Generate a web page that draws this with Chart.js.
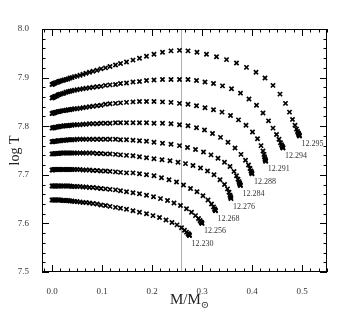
<!DOCTYPE html>
<html>
<head>
<meta charset="utf-8">
<script src="https://cdn.jsdelivr.net/npm/chart.js@4"></script>
<style>
  html, body { margin: 0; padding: 0; background: #fff; }
  #wrap { width: 342px; height: 316px; }
</style>
</head>
<body>
<div id="wrap"><canvas id="chart" width="342" height="316"></canvas></div>
<script>
// tick labels
const xTicks = [0.0, 0.1, 0.2, 0.3, 0.4, 0.5];
const yTicks = [7.5, 7.6, 7.7, 7.8, 7.9, 8.0];
const refMass = 0.258;

// labels written at the end of each track
const endLabels = ['12.295', '12.294', '12.291', '12.288', '12.284', '12.276', '12.268', '12.256', '12.230'];

// tracks: [M/Msun, log T]
const track1 = [[0,7.886],[0.002,7.887],[0.004,7.888],[0.006,7.889],[0.009,7.890],[0.012,7.891],[0.014,7.892],[0.017,7.893],[0.021,7.894],[0.024,7.895],[0.028,7.896],[0.032,7.897],[0.036,7.899],[0.040,7.900],[0.045,7.902],[0.050,7.903],[0.056,7.905],[0.062,7.907],[0.068,7.909],[0.075,7.911],[0.082,7.913],[0.090,7.915],[0.098,7.918],[0.107,7.920],[0.116,7.923],[0.127,7.926],[0.137,7.929],[0.149,7.932],[0.162,7.936],[0.175,7.940],[0.189,7.944],[0.204,7.948],[0.221,7.952],[0.238,7.955],[0.255,7.956],[0.272,7.955],[0.290,7.952],[0.309,7.948],[0.329,7.943],[0.349,7.937],[0.369,7.930],[0.389,7.921],[0.408,7.911],[0.426,7.899],[0.442,7.884],[0.456,7.866],[0.467,7.847],[0.475,7.829],[0.481,7.814],[0.486,7.802],[0.489,7.794],[0.491,7.789],[0.4925,7.786],[0.4935,7.784],[0.494,7.782],[0.4945,7.781],[0.495,7.780]];
const track2 = [[0,7.858],[0.002,7.859],[0.004,7.860],[0.006,7.861],[0.009,7.862],[0.012,7.864],[0.014,7.865],[0.017,7.866],[0.021,7.867],[0.024,7.868],[0.028,7.870],[0.032,7.871],[0.036,7.872],[0.040,7.873],[0.045,7.874],[0.050,7.875],[0.056,7.876],[0.062,7.877],[0.068,7.878],[0.075,7.879],[0.082,7.880],[0.090,7.881],[0.098,7.882],[0.107,7.884],[0.116,7.885],[0.127,7.886],[0.137,7.888],[0.149,7.889],[0.162,7.891],[0.175,7.892],[0.189,7.894],[0.204,7.895],[0.221,7.896],[0.238,7.896],[0.255,7.896],[0.272,7.896],[0.289,7.894],[0.306,7.891],[0.323,7.888],[0.341,7.883],[0.359,7.877],[0.377,7.868],[0.394,7.856],[0.409,7.843],[0.422,7.827],[0.433,7.811],[0.442,7.796],[0.449,7.783],[0.454,7.773],[0.457,7.766],[0.459,7.762],[0.4603,7.759],[0.461,7.757],[0.4615,7.756],[0.462,7.755]];
const track3 = [[0,7.826],[0.002,7.827],[0.004,7.827],[0.006,7.828],[0.009,7.829],[0.012,7.830],[0.014,7.830],[0.017,7.831],[0.021,7.832],[0.024,7.832],[0.028,7.833],[0.032,7.834],[0.036,7.834],[0.040,7.835],[0.045,7.836],[0.050,7.836],[0.056,7.837],[0.062,7.838],[0.068,7.839],[0.075,7.840],[0.082,7.841],[0.090,7.842],[0.098,7.843],[0.107,7.845],[0.116,7.846],[0.127,7.847],[0.137,7.848],[0.149,7.849],[0.162,7.850],[0.175,7.851],[0.189,7.851],[0.204,7.851],[0.221,7.850],[0.238,7.849],[0.255,7.847],[0.272,7.845],[0.289,7.842],[0.306,7.838],[0.323,7.834],[0.340,7.829],[0.357,7.822],[0.373,7.813],[0.388,7.802],[0.401,7.788],[0.411,7.774],[0.418,7.760],[0.422,7.749],[0.424,7.742],[0.425,7.737],[0.426,7.733],[0.4265,7.731],[0.427,7.729],[0.4273,7.728]];
const track4 = [[0,7.796],[0.002,7.797],[0.004,7.797],[0.006,7.798],[0.009,7.798],[0.012,7.799],[0.014,7.799],[0.017,7.800],[0.021,7.800],[0.024,7.801],[0.028,7.801],[0.032,7.801],[0.036,7.802],[0.040,7.802],[0.045,7.803],[0.050,7.803],[0.056,7.803],[0.062,7.804],[0.068,7.804],[0.075,7.805],[0.082,7.805],[0.090,7.805],[0.098,7.806],[0.107,7.806],[0.116,7.806],[0.127,7.807],[0.137,7.807],[0.149,7.807],[0.162,7.807],[0.175,7.807],[0.189,7.807],[0.204,7.806],[0.221,7.806],[0.238,7.805],[0.255,7.803],[0.272,7.801],[0.289,7.797],[0.305,7.792],[0.321,7.785],[0.337,7.777],[0.352,7.767],[0.366,7.755],[0.378,7.742],[0.387,7.730],[0.393,7.720],[0.396,7.713],[0.398,7.708],[0.399,7.705],[0.3995,7.703],[0.400,7.702]];
const track5 = [[0,7.768],[0.002,7.768],[0.004,7.769],[0.006,7.769],[0.009,7.769],[0.012,7.770],[0.014,7.770],[0.017,7.770],[0.021,7.771],[0.024,7.771],[0.028,7.771],[0.032,7.772],[0.036,7.772],[0.040,7.772],[0.045,7.772],[0.050,7.773],[0.056,7.773],[0.062,7.773],[0.068,7.773],[0.075,7.773],[0.082,7.773],[0.090,7.773],[0.098,7.773],[0.107,7.773],[0.116,7.773],[0.127,7.773],[0.137,7.772],[0.149,7.772],[0.162,7.771],[0.175,7.770],[0.189,7.769],[0.204,7.767],[0.221,7.765],[0.238,7.763],[0.255,7.760],[0.271,7.756],[0.287,7.752],[0.303,7.747],[0.318,7.741],[0.332,7.734],[0.345,7.726],[0.356,7.717],[0.364,7.707],[0.369,7.698],[0.372,7.691],[0.374,7.686],[0.375,7.683],[0.3757,7.681],[0.3763,7.679],[0.377,7.678]];
const track6 = [[0,7.743],[0.002,7.743],[0.004,7.743],[0.006,7.744],[0.009,7.744],[0.012,7.744],[0.014,7.744],[0.017,7.745],[0.021,7.745],[0.024,7.745],[0.028,7.745],[0.032,7.745],[0.036,7.745],[0.040,7.745],[0.045,7.745],[0.050,7.745],[0.056,7.745],[0.062,7.745],[0.068,7.745],[0.075,7.745],[0.082,7.745],[0.090,7.744],[0.098,7.744],[0.107,7.743],[0.116,7.743],[0.127,7.742],[0.137,7.741],[0.149,7.740],[0.162,7.739],[0.175,7.737],[0.189,7.735],[0.204,7.733],[0.220,7.731],[0.236,7.729],[0.252,7.726],[0.267,7.723],[0.282,7.719],[0.297,7.714],[0.311,7.708],[0.324,7.700],[0.336,7.690],[0.345,7.680],[0.351,7.671],[0.354,7.664],[0.356,7.658],[0.357,7.655],[0.3575,7.653],[0.358,7.651]];
const track7 = [[0,7.710],[0.002,7.710],[0.004,7.711],[0.006,7.711],[0.009,7.711],[0.012,7.711],[0.014,7.711],[0.017,7.711],[0.021,7.711],[0.024,7.711],[0.028,7.711],[0.032,7.711],[0.036,7.711],[0.040,7.711],[0.045,7.711],[0.050,7.711],[0.056,7.711],[0.062,7.710],[0.068,7.710],[0.075,7.710],[0.082,7.709],[0.090,7.709],[0.098,7.708],[0.107,7.708],[0.116,7.707],[0.127,7.706],[0.137,7.705],[0.149,7.704],[0.162,7.704],[0.175,7.702],[0.189,7.700],[0.204,7.698],[0.219,7.694],[0.234,7.690],[0.249,7.685],[0.263,7.679],[0.277,7.672],[0.290,7.665],[0.302,7.657],[0.312,7.648],[0.319,7.640],[0.323,7.634],[0.325,7.630],[0.326,7.628],[0.3265,7.627],[0.327,7.626]];
const track8 = [[0,7.677],[0.002,7.677],[0.004,7.677],[0.006,7.677],[0.009,7.677],[0.012,7.677],[0.014,7.677],[0.017,7.677],[0.021,7.677],[0.024,7.677],[0.028,7.677],[0.032,7.677],[0.036,7.677],[0.040,7.676],[0.045,7.676],[0.050,7.676],[0.056,7.676],[0.062,7.675],[0.068,7.675],[0.075,7.674],[0.082,7.674],[0.090,7.673],[0.098,7.672],[0.107,7.671],[0.116,7.670],[0.127,7.669],[0.137,7.667],[0.149,7.665],[0.162,7.663],[0.175,7.661],[0.189,7.658],[0.203,7.655],[0.217,7.651],[0.231,7.647],[0.244,7.642],[0.257,7.637],[0.269,7.630],[0.279,7.623],[0.287,7.616],[0.293,7.610],[0.296,7.606],[0.298,7.603],[0.299,7.602],[0.2995,7.601],[0.300,7.600]];
const track9 = [[0,7.648],[0.002,7.648],[0.004,7.648],[0.006,7.648],[0.009,7.648],[0.012,7.648],[0.014,7.648],[0.017,7.648],[0.021,7.647],[0.024,7.647],[0.028,7.647],[0.032,7.647],[0.036,7.646],[0.040,7.646],[0.045,7.645],[0.050,7.645],[0.056,7.644],[0.062,7.643],[0.068,7.643],[0.075,7.642],[0.082,7.641],[0.090,7.640],[0.098,7.638],[0.107,7.637],[0.116,7.635],[0.127,7.633],[0.137,7.631],[0.149,7.629],[0.162,7.626],[0.175,7.623],[0.189,7.620],[0.202,7.616],[0.215,7.612],[0.228,7.607],[0.240,7.602],[0.250,7.597],[0.259,7.591],[0.265,7.586],[0.269,7.582],[0.272,7.579],[0.273,7.578],[0.274,7.577],[0.2745,7.576],[0.275,7.575]];

const tracks = [track1, track2, track3, track4, track5, track6, track7, track8, track9];

const SERIF = "'Liberation Serif', 'DejaVu Serif', serif";

const decorPlugin = {
  id: 'decor',
  beforeDatasetsDraw(chart) {
    const { ctx, chartArea: a, scales: { x } } = chart;
    const px = Math.round(x.getPixelForValue(refMass)) + 0.5;
    ctx.save();
    ctx.strokeStyle = '#b0b0b0';
    ctx.lineWidth = 1;
    ctx.beginPath();
    ctx.moveTo(px, a.top);
    ctx.lineTo(px, a.bottom);
    ctx.stroke();
    ctx.restore();
  },
  afterDatasetsDraw(chart) {
    const { ctx, chartArea: a, scales: { x, y } } = chart;
    ctx.save();
    ctx.strokeStyle = '#000';
    ctx.lineWidth = 1;
    ctx.strokeRect(a.left + 0.5, a.top + 0.5, a.right - a.left - 1, a.bottom - a.top - 1);

    // inward ticks on all four sides
    ctx.beginPath();
    for (let k = Math.ceil(x.min * 60); k <= Math.floor(x.max * 60); k++) {
      const p = Math.round(x.getPixelForValue(k / 60)) + 0.5;
      const len = k % 6 === 0 ? 7 : 3.5;
      ctx.moveTo(p, a.bottom); ctx.lineTo(p, a.bottom - len);
      ctx.moveTo(p, a.top); ctx.lineTo(p, a.top + len);
    }
    for (let k = Math.ceil(y.min * 50 - 1e-6); k <= Math.floor(y.max * 50 + 1e-6); k++) {
      const p = Math.round(y.getPixelForValue(k / 50)) + 0.5;
      const len = k % 5 === 0 ? 7 : 3.5;
      ctx.moveTo(a.left, p); ctx.lineTo(a.left + len, p);
      ctx.moveTo(a.right, p); ctx.lineTo(a.right - len, p);
    }
    ctx.stroke();

    // end labels
    ctx.fillStyle = '#333';
    ctx.font = '8px ' + SERIF;
    ctx.textAlign = 'left';
    ctx.textBaseline = 'middle';
    tracks.forEach((t, i) => {
      const last = t[t.length - 1];
      ctx.fillText(endLabels[i], x.getPixelForValue(last[0]) + 2, y.getPixelForValue(last[1]) + 8);
    });

    // axis titles
    ctx.fillStyle = '#222';
    ctx.font = '14px ' + SERIF;
    ctx.textAlign = 'center';
    ctx.textBaseline = 'middle';
    ctx.save();
    ctx.translate(15, (a.top + a.bottom) / 2);
    ctx.rotate(-Math.PI / 2);
    ctx.fillText('log T', 0, 0);
    ctx.restore();

    const cx = (a.left + a.right) / 2 + 5;
    const base = 304;
    ctx.font = '15px ' + SERIF;
    const main = 'M/M';
    const wMain = ctx.measureText(main).width;
    ctx.font = '10px ' + SERIF;
    const sub = '\u2299';
    const wSub = ctx.measureText(sub).width;
    const start = cx - (wMain + wSub) / 2;
    ctx.textAlign = 'left';
    ctx.textBaseline = 'alphabetic';
    ctx.font = '15px ' + SERIF;
    ctx.fillText(main, start, base);
    ctx.font = '10px ' + SERIF;
    ctx.fillText(sub, start + wMain, base + 4);
    ctx.restore();
  }
};

new Chart(document.getElementById('chart'), {
  type: 'scatter',
  data: {
    datasets: tracks.map((t, i) => ({
      label: endLabels[i],
      data: t.map(p => ({ x: p[0], y: p[1] })),
      pointStyle: 'crossRot',
      pointRadius: 3,
      borderColor: '#000',
      backgroundColor: '#000',
      borderWidth: 1.7,
      showLine: false
    }))
  },
  options: {
    responsive: false,
    animation: false,
    events: [],
    layout: { padding: { top: 29, right: 15, left: 0, bottom: 0 } },
    plugins: { legend: { display: false }, tooltip: { enabled: false } },
    scales: {
      x: {
        type: 'linear',
        min: -0.02,
        max: 0.55,
        afterFit: s => { s.height = 44; },
        afterBuildTicks: s => { s.ticks = xTicks.map(v => ({ value: v })); },
        grid: { display: false },
        border: { display: false },
        ticks: {
          padding: 6,
          color: '#333',
          font: { family: SERIF, size: 9 },
          callback: v => Number(v).toFixed(1)
        }
      },
      y: {
        type: 'linear',
        min: 7.5,
        max: 8.0,
        afterFit: s => { s.width = 42; },
        afterBuildTicks: s => { s.ticks = yTicks.map(v => ({ value: v })); },
        grid: { display: false },
        border: { display: false },
        ticks: {
          padding: 5,
          color: '#333',
          font: { family: SERIF, size: 9 },
          callback: v => Number(v).toFixed(1)
        }
      }
    }
  },
  plugins: [decorPlugin]
});
</script>
</body>
</html>
